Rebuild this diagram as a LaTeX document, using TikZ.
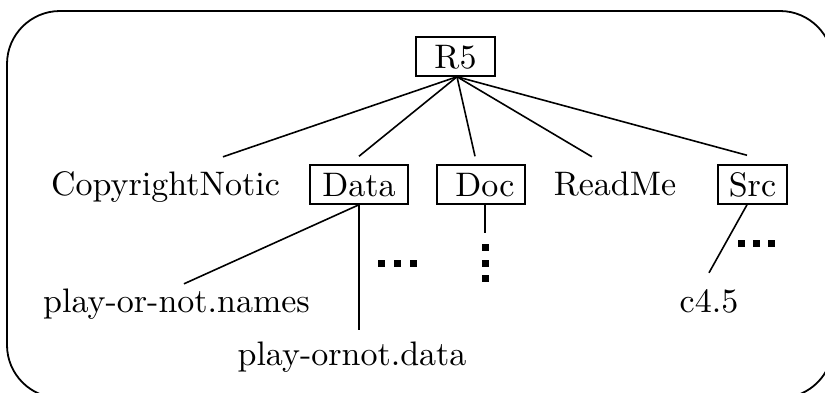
\documentclass[tikz,border=0pt]{standalone}
\usetikzlibrary{calc}
\font\lmbig="[lmroman10-regular]" at 34pt
\begin{document}
\begin{tikzpicture}[x=1pt,y=-1pt,
  lbl/.style={inner sep=0pt, text height=24pt, text depth=0pt, anchor=base,
    font=\lmbig},
  box/.style={lbl, draw, line width=1.5pt, inner xsep=0pt, inner ysep=8pt, text height=23pt},
  edge/.style={line width=1.6pt},
  dotsq/.style={fill=black}]
\useasboundingbox (0,0) rectangle (825,392);
\begin{scope}
  \clip (0,0) rectangle (825,392);
  \draw[line width=1.8pt, rounded corners=53pt] (7,11) rectangle (833,398);
\end{scope}
% nodes
\node[box, minimum width=79pt] (r5) at (455.5,68) {R5};
\node[box, minimum width=98pt] (data) at (359,196) {Data};
\node[box, minimum width=88pt] (doc) at (481,196) {\hspace*{8pt}Doc};
\node[box, minimum width=69pt] (src) at (752.5,196) {Src};
\node[lbl] (copy) at (165.5,195) {CopyrightNotic};
\node[lbl] (readme) at (615,195) {ReadMe};
\node[lbl] (names) at (176.5,312) {play-or-not.names};
\node[lbl] (pdata) at (352,365) {play-ornot.data};
\node[lbl] (c45) at (709,312) {c4.5};
% connectors
\draw[edge] ([xshift=1.5pt]r5.south) -- ([shift={(57.5pt,14pt)}]copy.north);
\draw[edge] ([xshift=1.5pt]r5.south) -- ([yshift=8pt]data.north);
\draw[edge] ([xshift=1.5pt]r5.south) -- ([shift={(-6pt,8pt)}]doc.north);
\draw[edge] ([xshift=1.5pt]r5.south) -- ([shift={(-23pt,14pt)}]readme.north);
\draw[edge] ([xshift=1.5pt]r5.south) -- ([shift={(-5.5pt,9pt)}]src.north);
\draw[edge] (data.south) -- ([shift={(7.5pt,4pt)}]names.north);
\draw[edge] (data.south) -- ($(data.south |- pdata.north)+(0,-11)$);
\coordinate (docend) at (485,233);
\draw[edge] ([xshift=4pt]doc.south) -- (docend);
\draw[edge] ([xshift=-5.5pt]src.south) -- ([yshift=15pt]c45.north);
% ellipses
\fill[dotsq] (378,260) rectangle ++(7,7);
\fill[dotsq] (394,260) rectangle ++(7,7);
\fill[dotsq] (410,260) rectangle ++(7,7);
\fill[dotsq] (482,244) rectangle ++(7,7);
\fill[dotsq] (482,260) rectangle ++(7,7);
\fill[dotsq] (482,275) rectangle ++(7,7);
\fill[dotsq] (738,240) rectangle ++(7,7);
\fill[dotsq] (753,240) rectangle ++(7,7);
\fill[dotsq] (768,240) rectangle ++(7,7);
\end{tikzpicture}
\end{document}
